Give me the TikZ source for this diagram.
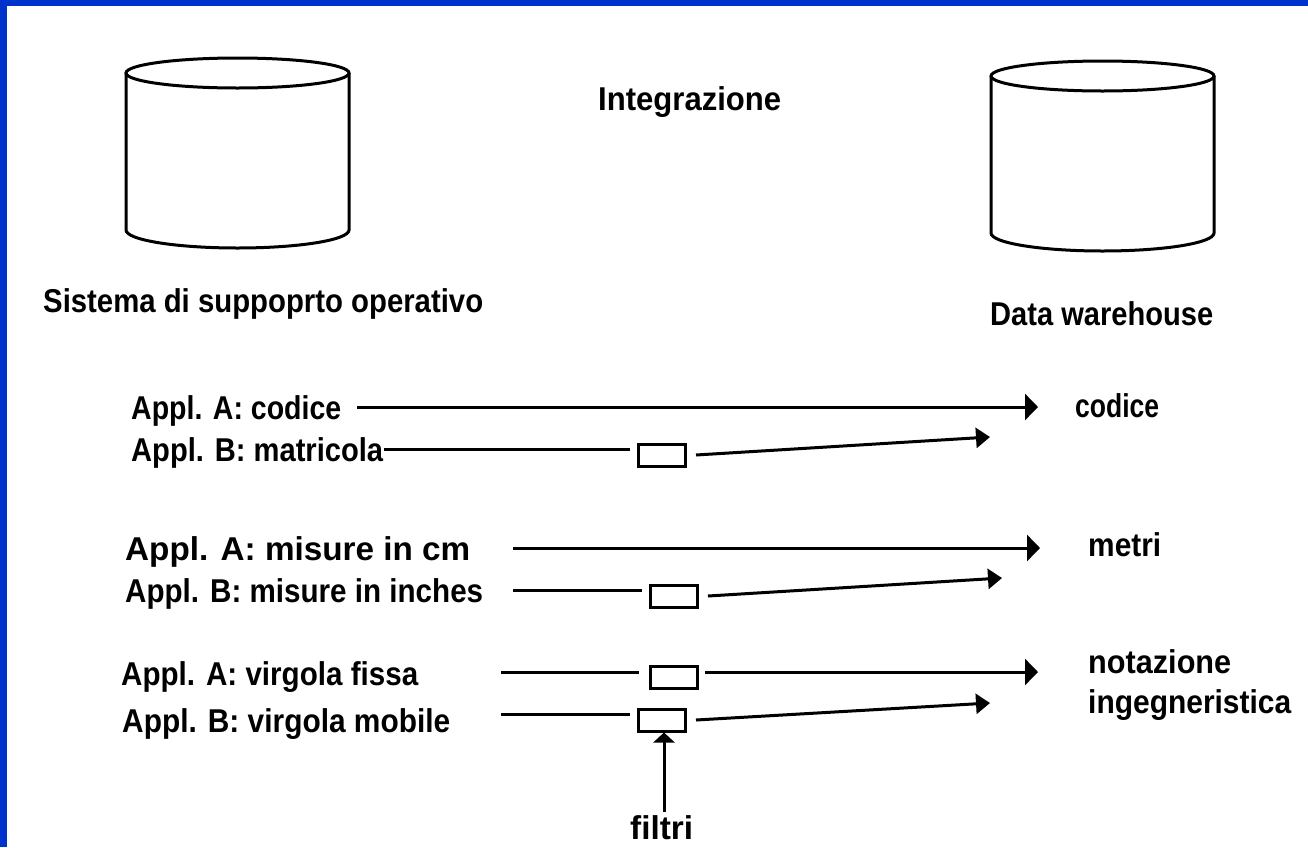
\documentclass[tikz,border=0pt]{standalone}
\usepackage{fontspec}
\setmainfont{Liberation Sans}
\usetikzlibrary{arrows.meta}
\definecolor{frameblue}{RGB}{0,51,204}
\newcommand{\fitw}[2]{\resizebox{#1pt}{\height}{#2}}
\begin{document}
\begin{tikzpicture}[x=1pt,y=-1pt,
  txt/.style={inner sep=0pt,anchor=base west,font=\fontsize{33}{36}\selectfont\bfseries},
  ln/.style={line width=3pt},
  filt/.style={draw,line width=3pt,inner sep=0pt,minimum width=47pt,minimum height=22pt},
  big/.style={ln,-{Triangle[length=13pt,width=26pt]}},
  small/.style={ln,-{Triangle[length=14pt,width=20pt]}}]
\useasboundingbox (0,0) rectangle (1308,847);
\fill[white] (0,0) rectangle (1308,847);
\fill[frameblue] (0,0) rectangle (1308,6);
\fill[frameblue] (0,0) rectangle (7,847);
% cylinders
\draw[ln] (237.5,73) ellipse [x radius=111.5, y radius=15];
\draw[ln] (126,73) -- (126,230) arc[start angle=180,end angle=0,x radius=111.5,y radius=18] -- (349,73);
\draw[ln] (1102.5,76) ellipse [x radius=111.5, y radius=15];
\draw[ln] (991,76) -- (991,233) arc[start angle=180,end angle=0,x radius=111.5,y radius=18] -- (1214,76);
% titles
\node[txt] (integ) at (598,110) {\fitw{183}{Integrazione}};
\node[txt] (sis) at (43,312) {\fitw{440}{Sistema di suppoprto operativo}};
\node[txt] (dw) at (990,325) {\fitw{223}{Data warehouse}};
% left labels
\node[txt] (l1) at (131,419) {\fitw{210}{Appl. A: codice}};
\node[txt] (l2) at (131,461) {\fitw{252}{Appl. B: matricola}};
\node[txt] (l3) at (125,560) {\fitw{345}{Appl. A: misure in cm}};
\node[txt] (l4) at (125,602) {\fitw{358}{Appl. B: misure in inches}};
\node[txt] (l5) at (121,685) {\fitw{297}{Appl. A: virgola fissa}};
\node[txt] (l6) at (122,732) {\fitw{328}{Appl. B: virgola mobile}};
% right labels
\node[txt] (r1) at (1075,417) {\fitw{84}{codice}};
\node[txt] (r3) at (1088,556) {\fitw{73}{metri}};
\node[txt] (r5a) at (1088,673) {\fitw{143}{notazione}};
\node[txt] (r5b) at (1088,713) {\fitw{203}{ingegneristica}};
\node[txt] (fl) at (630,839) {\fitw{63}{filtri}};
% filter boxes
\node[filt] (f2) at (662,455.5) {};
\node[filt] (f4) at (673.5,596) {};
\node[filt] (f5) at (673.5,677) {};
\node[filt] (f6) at (662,720) {};
% connector coordinates
\coordinate (s1) at (357,407); \coordinate (t1) at (1038,407);
\coordinate (s2) at (384,449); \coordinate (e2) at (630,449);
\coordinate (b2) at (696,455); \coordinate (t2) at (990,437);
\coordinate (s3) at (513,548); \coordinate (t3) at (1040,548);
\coordinate (s4) at (513,590); \coordinate (e4) at (642,590);
\coordinate (b4) at (708,596); \coordinate (t4) at (1002,578);
\coordinate (s5) at (501,672); \coordinate (e5) at (639,672);
\coordinate (b5) at (705,672); \coordinate (t5) at (1038,672);
\coordinate (s6) at (501,714); \coordinate (e6) at (630,714);
\coordinate (b6) at (696,720); \coordinate (t6) at (990,703);
\coordinate (fs) at (664,812);
% connectors
\draw[big] (s1) -- (t1);
\draw[ln] (s2) -- (e2);
\draw[small] (b2) -- (t2);
\draw[big] (s3) -- (t3);
\draw[ln] (s4) -- (e4);
\draw[small] (b4) -- (t4);
\draw[ln] (s5) -- (e5);
\draw[big] (b5) -- (t5);
\draw[ln] (s6) -- (e6);
\draw[small] (b6) -- (t6);
\draw[ln,-{Triangle[length=10pt,width=21pt]}] (fs) -- (fs |- f6.south);
\end{tikzpicture}
\end{document}
